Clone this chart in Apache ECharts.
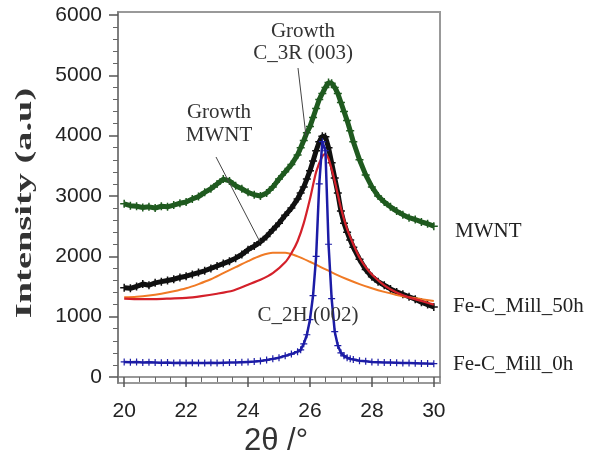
<!DOCTYPE html>
<html>
<head>
<meta charset="utf-8">
<script src="https://cdn.jsdelivr.net/npm/echarts@6/dist/echarts.min.js"></script>
<style>html,body{margin:0;padding:0;background:#fff;}#c{width:594px;height:455px;}</style>
</head>
<body>
<div id="c"></div>
<script>
// 2θ positions (degrees)
var angles = [20.0,20.2,20.4,20.6,20.8,21.0,21.2,21.4,21.6,21.8,22.0,22.2,22.4,22.6,22.8,23.0,23.2,23.4,23.6,23.8,24.0,24.2,24.4,24.6,24.8,25.0,25.2,25.4,25.6,
  25.7,25.8,25.9,26.0,26.1,26.2,26.3,26.4,26.5,26.6,26.7,26.8,26.9,27.0,27.1,27.2,27.3,
  27.4,27.6,27.8,28.0,28.2,28.4,28.6,28.8,29.0,29.2,29.4,29.6,29.8,30.0];

var mwnt = [2870,2840,2830,2810,2820,2800,2830,2820,2850,2880,2900,2950,2990,3060,3120,3200,3280,3250,3170,3120,3060,3020,3000,3050,3150,3280,3400,3520,3680,
  3800,3920,4050,4150,4300,4450,4600,4700,4800,4880,4870,4800,4700,4550,4400,4250,4080,
  3900,3600,3350,3150,3000,2900,2820,2750,2690,2640,2610,2570,2540,2500];

var mill50h = [1480,1470,1500,1540,1520,1560,1580,1600,1620,1650,1670,1700,1730,1760,1800,1840,1880,1920,1970,2030,2110,2170,2240,2330,2440,2550,2680,2800,2950,
  3050,3150,3280,3420,3580,3750,3900,3990,3980,3800,3550,3300,3050,2750,2550,2400,2270,
  2150,1950,1780,1660,1580,1520,1460,1410,1370,1330,1290,1240,1200,1160];

var mill0h = [250,245,250,240,245,240,235,240,230,235,230,235,230,230,235,230,235,240,240,245,250,255,265,280,300,320,350,380,420,
  450,550,700,950,1350,2000,3200,3900,3750,2200,1300,750,520,400,350,320,300,
  290,270,260,250,245,240,238,235,232,230,228,225,222,220];

var fitAngles = [20.0,20.5,21.0,21.5,22.0,22.5,23.0,23.5,24.0,24.4,24.8,25.2,25.4,25.6,25.8,26.0,26.2,26.4,26.5,26.6,26.8,27.0,27.2,27.4,27.6,27.8,28.0,28.4,28.8,29.2,29.6,30.0];
var fitC2H = [1300,1290,1290,1300,1310,1340,1380,1430,1530,1610,1720,1900,2050,2250,2550,2950,3400,3660,3700,3620,3250,2800,2450,2200,1980,1820,1700,1520,1400,1320,1260,1200];

var broadAngles = [20.0,20.4,20.8,21.2,21.6,22.0,22.4,22.8,23.2,23.6,24.0,24.4,24.8,25.2,25.6,26.0,26.4,26.8,27.2,27.6,28.0,28.4,28.8,29.2,29.6,30.0];
var fitMWNT = [1320,1330,1350,1380,1420,1470,1540,1620,1720,1820,1920,2010,2060,2060,2000,1910,1810,1710,1620,1540,1470,1410,1360,1320,1290,1260];

var yMajor = [0,1000,2000,3000,4000,5000,6000];
var yMinor = [200,400,600,800,1200,1400,1600,1800,2200,2400,2600,2800,3200,3400,3600,3800,4200,4400,4600,4800,5200,5400,5600,5800];
var xMajor = [20,22,24,26,28,30];
var xMinor = [20.5,21,21.5,22.5,23,23.5,24.5,25,25.5,26.5,27,27.5,28.5,29,29.5];

var seriesLabels = ['MWNT','Fe-C_Mill_50h','Fe-C_Mill_0h'];
var xTitle = '2θ /°';
var yTitle = 'Intensity (a.u)';

function pair(xs, ys){ return xs.map(function(x,i){ return [x, ys[i]]; }); }

var plus = 'path://M0,5L10,5M5,0L5,10';
var chart = echarts.init(document.getElementById('c'));
var serif = '"Liberation Serif","DejaVu Serif",serif';
var sans = '"Liberation Sans",Arial,sans-serif';

chart.setOption({
  animation:false,
  grid: {left:118, right:154, top:12, bottom:72, show:true, borderColor:'#999', borderWidth:2, backgroundColor:'transparent'},
  xAxis: [{
    type:'value', min:19.8, max:30.2,
    axisLine:{show:true, lineStyle:{color:'#777', width:1.5}},
    axisTick:{show:true, customValues:xMajor, length:10, lineStyle:{color:'#555', width:1.5}},
    axisLabel:{show:true, customValues:xMajor, color:'#222', fontFamily:sans, fontSize:21, margin:18},
    splitLine:{show:false}
  },{
    type:'value', min:19.8, max:30.2, position:'bottom',
    axisLine:{show:false},
    axisTick:{show:true, customValues:xMinor, length:5, lineStyle:{color:'#666', width:1}},
    axisLabel:{show:false}, splitLine:{show:false}
  }],
  yAxis: [{
    type:'value', min:-100, max:6050,
    axisLine:{show:true, lineStyle:{color:'#777', width:1.5}},
    axisTick:{show:true, customValues:yMajor, length:9, lineStyle:{color:'#555', width:1.5}},
    axisLabel:{show:true, customValues:yMajor, color:'#222', fontFamily:sans, fontSize:21, margin:16,
      formatter:function(v){ return String(v); }},
    splitLine:{show:false}
  },{
    type:'value', min:-100, max:6050, position:'left',
    axisLine:{show:false},
    axisTick:{show:true, customValues:yMinor, length:5, lineStyle:{color:'#666', width:1}},
    axisLabel:{show:false}, splitLine:{show:false}
  }],
  series: [
    {name:seriesLabels[0], type:'line', data:pair(angles, mwnt), lineStyle:{color:'#1f5a1f', width:5},
     symbol:plus, symbolSize:8, itemStyle:{color:'#1f5a1f', borderColor:'#1f5a1f', borderWidth:1.5}, z:2},
    {name:seriesLabels[1], type:'line', data:pair(angles, mill50h), lineStyle:{color:'#111', width:5},
     symbol:plus, symbolSize:8, itemStyle:{color:'#111', borderColor:'#111', borderWidth:1.5}, z:3},
    {name:'fit MWNT', type:'line', data:pair(broadAngles, fitMWNT), smooth:0.3, symbol:'none',
     lineStyle:{color:'#f07a25', width:2}, z:4},
    {name:'fit C_2H', type:'line', data:pair(fitAngles, fitC2H), smooth:0.2, symbol:'none',
     lineStyle:{color:'#d4202a', width:2.2}, z:5},
    {name:seriesLabels[2], type:'line', data:pair(angles, mill0h), lineStyle:{color:'#1c1ca6', width:2.5},
     symbol:plus, symbolSize:7, itemStyle:{color:'#1c1ca6', borderColor:'#1c1ca6', borderWidth:1.2}, z:6}
  ],
  graphic: [
    {type:'text', x:25, y:203, rotation:Math.PI/2, scaleX:1.6,
     style:{text:yTitle, font:'bold 24px '+serif, fill:'#333', align:'center', verticalAlign:'middle'}},
    {type:'text', x:276, y:441, style:{text:xTitle, font:'31px '+sans, fill:'#333', align:'center', verticalAlign:'middle'}},
    {type:'text', x:455, y:231, style:{text:seriesLabels[0], font:'21px '+serif, fill:'#222', verticalAlign:'middle'}},
    {type:'text', x:453, y:306, style:{text:seriesLabels[1], font:'21px '+serif, fill:'#222', verticalAlign:'middle'}},
    {type:'text', x:453, y:364, style:{text:seriesLabels[2], font:'21px '+serif, fill:'#222', verticalAlign:'middle'}},
    {type:'text', x:303, y:42, style:{text:'Growth\nC_3R (003)', font:'21px '+serif, fill:'#333', align:'center', verticalAlign:'middle', lineHeight:22}},
    {type:'text', x:219, y:124, style:{text:'Growth\nMWNT', font:'21px '+serif, fill:'#333', align:'center', verticalAlign:'middle', lineHeight:23}},
    {type:'text', x:308, y:315, style:{text:'C_2H (002)', font:'21px '+serif, fill:'#333', align:'center', verticalAlign:'middle'}, z:10},
    {type:'line', shape:{x1:298, y1:68, x2:306, y2:136}, style:{stroke:'#444', lineWidth:1}, z:10},
    {type:'line', shape:{x1:216, y1:157, x2:260, y2:242}, style:{stroke:'#444', lineWidth:1}, z:10}
  ]
});
</script>
</body>
</html>
